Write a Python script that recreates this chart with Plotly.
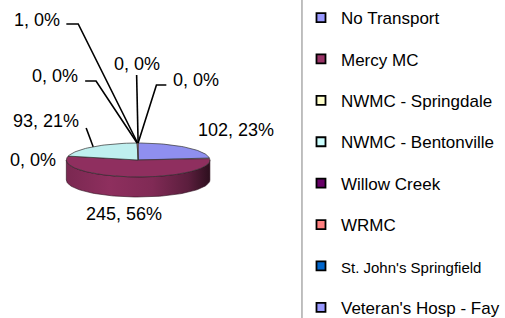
import numpy as np
import plotly.graph_objects as go

# ---------------- data ----------------
categories = ["No Transport", "Mercy MC", "NWMC - Springdale", "NWMC - Bentonville",
              "Willow Creek", "WRMC", "St. John's Springfield", "Veteran's Hosp - Fay"]
values = [102, 245, 0, 93, 0, 1, 0, 0]
colors = ["#9999FF", "#993366", "#FFFFCC", "#CCFFFF",
          "#660066", "#FF8080", "#0066CC", "#9999FF"]

# label placement (layout only): category -> (x, y, leader elbow or None)
label_pos = {
    "No Transport": (238, 130, None),
    "Mercy MC": (125, 214, None),
    "NWMC - Springdale": (33, 160, None),
    "NWMC - Bentonville": (46, 121, [(87, 128)]),
    "Willow Creek": (56, 76, [(86, 81), (97, 81)]),
    "WRMC": (37, 20, [(67, 24), (79, 24)]),
    "St. John's Springfield": (138, 64, [(138, 75)]),
    "Veteran's Hosp - Fay": (198, 80, [(168, 85), (158, 85)]),
}

# ---------------- geometry (pixel space) ----------------
W, H = 505, 318
CX, CY, RX, RY, DEPTH = 139.5, 160.0, 72.5, 17.0, 20.0
FONT = "Arial, Liberation Sans, sans-serif"


def rim(theta_deg, dy=0.0):
    t = np.radians(theta_deg)
    return CX + RX * np.sin(t), CY - RY * np.cos(t) + dy


def shade(hexc, f):
    h = hexc.lstrip("#")
    r, g, b = (int(h[i:i + 2], 16) for i in (0, 2, 4))
    return "#%02x%02x%02x" % (min(255, int(r * f)), min(255, int(g * f)), min(255, int(b * f)))


total = float(sum(values))
cum = np.concatenate([[0.0], np.cumsum(values)])
a0s = cum[:-1] / total * 360.0
a1s = cum[1:] / total * 360.0

fig = go.Figure()

# side walls (front half only: 90..270 deg clockwise from 12 o'clock)
for cat, v, c, a0, a1 in zip(categories, values, colors, a0s, a1s):
    lo, hi = max(a0, 90.0), min(a1, 270.0)
    if v <= 0 or hi <= lo:
        continue
    th = np.linspace(lo, hi, 80)
    xt, yt = rim(th)
    xb, yb = rim(th[::-1], DEPTH)
    xs = np.concatenate([xt, xb, xt[:1]])
    ys = np.concatenate([yt, yb, yt[:1]])
    cs = [[0.0, shade(c, 0.80)], [0.3, shade(c, 0.93)], [0.6, shade(c, 0.84)],
          [0.85, shade(c, 0.60)], [1.0, shade(c, 0.30)]]
    fig.add_trace(go.Scatter(
        x=xs, y=ys, mode="lines", fill="toself",
        fillgradient=dict(type="horizontal", colorscale=cs, start=CX - RX, stop=CX + RX),
        line=dict(color="#2a0a1a", width=0.6), showlegend=False, hoverinfo="skip"))

# top faces
for cat, v, c, a0, a1 in zip(categories, values, colors, a0s, a1s):
    if v <= 0:
        continue
    th = np.linspace(a0, a1, max(4, int((a1 - a0) / 2)))
    xa, ya = rim(th)
    xs = np.concatenate([[CX], xa, [CX]])
    ys = np.concatenate([[CY], ya, [CY]])
    fig.add_trace(go.Scatter(
        x=xs, y=ys, mode="lines", fill="toself", fillcolor=shade(c, 0.94),
        line=dict(color="#303030", width=0.7), showlegend=False, hoverinfo="skip",
        name=cat))

# data labels and leader lines
for cat, v, a0, a1 in zip(categories, values, a0s, a1s):
    lx, ly, elbow = label_pos[cat]
    pct = round(100 * v / total)
    fig.add_annotation(x=lx, y=ly, text=f"{v}, {pct}%", showarrow=False,
                       font=dict(family=FONT, size=18, color="black"),
                       xanchor="center", yanchor="middle")
    if elbow:
        ex, ey = rim((a0 + a1) / 2.0)
        px = [p[0] for p in elbow] + [ex]
        py = [p[1] for p in elbow] + [ey]
        fig.add_trace(go.Scatter(x=px, y=py, mode="lines",
                                 line=dict(color="black", width=1.6),
                                 showlegend=False, hoverinfo="skip"))

# legend entries
for cat, c in zip(categories, colors):
    nm = cat if cat != "St. John's Springfield" else \
        "<span style='font-size:15px'>" + cat + "</span>"
    fig.add_trace(go.Scatter(
        x=[None], y=[None], mode="markers", name=nm, legendgroup=cat,
        marker=dict(symbol="square", size=9, color=c,
                    line=dict(color="black", width=1.8))))

fig.add_shape(type="line", xref="x", yref="y", x0=305, x1=305, y0=0, y1=H,
              line=dict(color="#808080", width=1))

fig.update_layout(
    width=W, height=H, margin=dict(l=0, r=0, t=0, b=0),
    paper_bgcolor="white", plot_bgcolor="white",
    xaxis=dict(range=[0, W], visible=False, fixedrange=True, domain=[0, 1]),
    yaxis=dict(range=[H, 0], visible=False, fixedrange=True, domain=[0, 1]),
    showlegend=True,
    legend=dict(x=304 / W, xanchor="left", y=1, yanchor="top",
                font=dict(family=FONT, size=17, color="black"),
                tracegroupgap=16.3, itemwidth=30, bgcolor="rgba(0,0,0,0)",
                borderwidth=0),
)

fig.write_html("out.html", config={"displayModeBar": False},
               post_script="document.body.style.margin='0px';")
